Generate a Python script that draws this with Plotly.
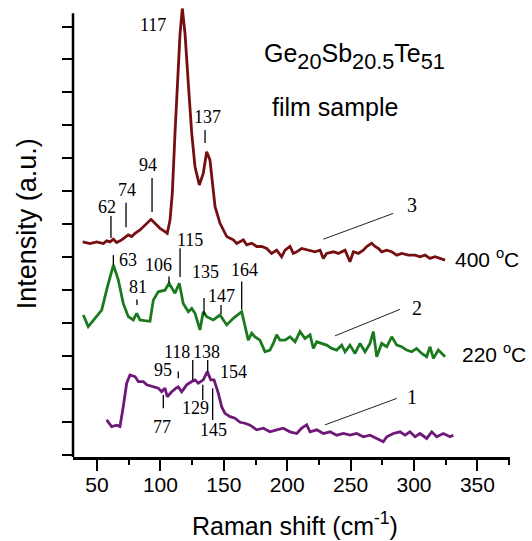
import plotly.graph_objects as go

# ---------------- data ----------------
# curve 3 : 400 C
x3 = [38.7, 44.5, 49.8, 55.0, 57.6, 60.3, 62.9, 65.5, 69.5, 72.1, 74.7, 77.4, 80.0, 83.9, 87.9,
      92.6, 95.7, 99.7, 103.6, 105.4, 107.6, 109.4, 111.5, 113.3, 115.5, 117.3, 119.4, 122.0,
      124.7, 127.3, 130.7, 133.8, 136.5, 139.1, 141.2, 143.1, 147.0, 152.3, 154.9, 157.5, 160.2,
      162.8, 165.4, 168.0, 172.0, 175.9, 179.8, 183.8, 187.7, 191.7, 195.6, 198.3, 202.2, 204.8,
      207.5, 211.4, 216.7, 221.9, 225.9, 228.5, 231.1, 236.4, 240.3, 243.0, 245.6, 249.5, 252.2,
      256.1, 260.0, 262.7, 266.6, 269.3, 271.9, 274.5, 278.5, 282.4, 286.4, 290.3, 295.6, 300.8,
      304.8, 308.7, 312.6, 316.6, 320.5, 324.5]
y3 = [6.50, 6.45, 6.50, 6.45, 6.53, 6.50, 6.58, 6.48, 6.56, 6.64, 6.71, 6.66, 6.76, 6.86, 7.01,
      7.18, 7.06, 6.91, 6.81, 6.76, 7.16, 7.97, 9.78, 11.29, 12.80, 13.55, 12.80, 11.29,
      9.78, 8.77, 8.22, 8.57, 9.22, 8.97, 8.17, 7.56, 7.06, 6.66, 6.61, 6.56, 6.45,
      6.51, 6.56, 6.41, 6.46, 6.36, 6.36, 6.30, 6.15, 6.25, 6.05, 6.25, 6.36, 6.15,
      6.20, 6.30, 6.25, 6.20, 6.25, 6.00, 6.15, 6.20, 6.15, 6.20, 6.25, 5.90, 6.20,
      6.15, 6.25, 6.36, 6.46, 6.36, 6.30, 6.20, 6.25, 6.20, 6.10, 6.15, 6.10, 6.10,
      6.05, 6.10, 6.00, 6.05, 6.00, 5.95]

# curve 2 : 220 C
x2 = [39.2, 43.1, 48.4, 53.7, 57.6, 62.9, 66.8, 70.7, 74.7, 78.6, 81.3, 83.9, 87.5, 91.8, 94.4,
      98.3, 103.6, 106.8, 111.5, 114.9, 118.0, 122.0, 124.7, 127.3, 131.2, 133.8, 136.5, 141.7,
      147.0, 152.3, 157.5, 164.1, 169.3, 172.0, 174.6, 178.5, 182.5, 186.4, 189.0, 191.7, 194.3,
      198.3, 202.2, 206.2, 210.1, 214.0, 218.0, 220.6, 223.3, 227.2, 231.1, 235.1, 239.0, 243.0,
      245.6, 249.5, 253.5, 257.4, 261.4, 265.3, 267.9, 270.6, 274.5, 278.5, 282.4, 286.4, 290.3,
      294.2, 298.2, 302.1, 306.1, 310.0, 312.6, 315.3, 319.2, 324.5]
y2 = [4.29, 3.94, 4.19, 4.44, 5.05, 5.80, 5.35, 4.64, 4.24, 4.14, 4.34, 4.14, 4.12, 4.10, 4.74,
      4.99, 5.04, 5.25, 4.95, 5.25, 4.64, 4.39, 4.49, 4.34, 3.84, 4.39, 4.24, 4.14,
      4.29, 3.99, 4.19, 4.39, 3.53, 3.74, 3.63, 3.53, 3.18, 3.23, 3.43, 3.69, 3.53,
      3.53, 3.63, 3.48, 3.79, 3.58, 3.69, 3.28, 3.48, 3.43, 3.38, 3.28, 3.23, 3.38,
      3.18, 3.38, 3.13, 3.43, 3.18, 3.43, 3.79, 3.03, 3.43, 3.33, 3.63, 3.38, 3.33,
      3.23, 3.18, 3.28, 3.13, 3.03, 3.33, 2.98, 3.23, 3.03]

# curve 1 : as deposited
x1 = [57.6, 61.6, 65.5, 68.1, 70.7, 73.4, 76.0, 80.0, 82.6, 86.5, 89.2, 94.4, 98.3, 101.0,
      103.6, 105.4, 108.9, 112.3, 114.1, 116.8, 120.7, 124.7, 127.3, 129.9, 133.8, 137.0, 139.7,
      142.3, 145.7, 148.3, 150.9, 154.9, 158.8, 162.8, 166.7, 170.7, 176.0, 181.2, 186.4, 191.7,
      196.9, 202.2, 207.5, 211.4, 215.4, 218.0, 223.3, 228.5, 233.8, 239.0, 244.3, 249.5, 254.8,
      260.0, 265.3, 270.6, 275.8, 278.5, 283.7, 289.0, 292.9, 296.8, 300.8, 304.7, 310.0, 314.0,
      317.9, 323.1, 328.4, 331.0]
y1 = [1.12, 0.92, 0.96, 0.92, 1.52, 2.23, 2.48, 2.43, 2.28, 2.28, 2.18, 2.12, 2.08, 1.97,
      2.08, 1.82, 1.97, 2.08, 2.12, 1.97, 2.18, 2.28, 2.33, 2.23, 2.33, 2.58, 2.33,
      2.33, 1.92, 1.52, 1.32, 1.22, 1.17, 1.05, 1.02, 0.96, 0.82, 0.87, 0.76, 0.82,
      0.87, 0.76, 0.71, 0.87, 0.97, 0.76, 0.82, 0.71, 0.76, 0.66, 0.71, 0.66, 0.71,
      0.61, 0.66, 0.56, 0.46, 0.61, 0.71, 0.76, 0.66, 0.76, 0.61, 0.71, 0.56, 0.76,
      0.61, 0.71, 0.61, 0.66]

# peak labels: text, label x, label y, tick x, tick y0, tick y1 (tick x None = no tick)
pk_text = ["117", "137", "94", "74", "62",
           "63", "106", "115", "81", "135", "147", "164",
           "118", "138", "95", "154", "129", "77", "145"]
pk_lx = [94.2, 137.5, 90.2, 73.7, 57.9,
         74.7, 98.5, 123.3, 82.6, 135.2, 148.3, 166.7,
         112.8, 136.5, 102.3, 157.5, 127.3, 101.0, 141.7]
pk_ly = [13.05, 10.27, 8.82, 8.06, 7.56,
         5.95, 5.80, 6.56, 5.15, 5.60, 4.86, 5.65,
         3.18, 3.18, 2.63, 2.58, 1.47, 0.92, 0.82]
pk_tx = [None, 135.2, 93.4, 72.9, 61.0,
         62.9, 106.8, 115.5, 81.5, 134.4, 147.8, 164.1,
         125.5, 137.3, 114.1, None, 133.4, 102.3, 141.2]
pk_ty0 = [None, 9.88, 8.43, 7.68, 7.28,
          6.10, 5.45, 6.31, 4.76, 4.80, 4.59, 5.30,
          2.93, 2.93, 2.58, None, 2.18, 1.87, 2.08]
pk_ty1 = [None, 9.49, 7.40, 6.94, 6.62,
          5.80, 5.25, 5.44, 4.59, 4.29, 4.32, 4.46,
          2.33, 2.58, 2.38, None, 1.72, 1.47, 1.12]

# curve numbers with leader lines
cn_text = ["3", "2", "1"]
cn_x = [292.9, 296.8, 292.9]
cn_y = [7.61, 4.49, 1.82]
cn_lx0 = [228.5, 237.7, 229.8]
cn_ly0 = [6.58, 3.66, 0.97]
cn_lx1 = [283.7, 288.9, 286.4]
cn_ly1 = [7.36, 4.46, 1.77]

temp_text = ["400 <sup>o</sup>C", "220 <sup>o</sup>C"]
temp_x = [330.7, 336.3]
temp_y = [6.01, 3.13]

x_ticks = [50, 100, 150, 200, 250, 300, 350]

# ---------------- figure ----------------
SANS = "Liberation Sans, Arial, sans-serif"
SERIF = "Liberation Serif, Times New Roman, serif"

fig = go.Figure()
for xs, ys, col in [(x3, y3, "#760f12"), (x2, y2, "#1c7a1e"), (x1, y1, "#6e1878")]:
    fig.add_trace(go.Scatter(x=xs, y=ys, mode="lines",
                             line=dict(color=col, width=2.8), hoverinfo="skip"))

shapes = []
# y axis line (shorter than the plot area so the 117 peak can rise above it)
shapes.append(dict(type="line", xref="paper", x0=0, x1=0, yref="y", y0=0, y1=13.41,
                   line=dict(color="black", width=2.5)))
annotations = []
for t, lx, ly, tx, ty0, ty1 in zip(pk_text, pk_lx, pk_ly, pk_tx, pk_ty0, pk_ty1):
    annotations.append(dict(x=lx, y=ly, text=t, showarrow=False, xanchor="center",
                            yanchor="middle", font=dict(family=SERIF, size=18, color="black")))
    if tx is not None:
        shapes.append(dict(type="line", xref="x", yref="y", x0=tx, x1=tx, y0=ty0, y1=ty1,
                           line=dict(color="black", width=1.3)))
for t, x, y, a0, b0, a1, b1 in zip(cn_text, cn_x, cn_y, cn_lx0, cn_ly0, cn_lx1, cn_ly1):
    annotations.append(dict(x=x, y=y, text=t, showarrow=False, xanchor="left",
                            yanchor="middle", font=dict(family=SERIF, size=20, color="black")))
    shapes.append(dict(type="line", xref="x", yref="y", x0=a0, x1=a1, y0=b0, y1=b1,
                       line=dict(color="#222222", width=1)))
for t, x, y in zip(temp_text, temp_x, temp_y):
    annotations.append(dict(x=x, y=y, text=t, showarrow=False, xanchor="left",
                            yanchor="middle", font=dict(family=SANS, size=21, color="black")))

MAIN = '<span style="font-size:25px">{}</span>'
title_txt = (MAIN.format("Ge") + "<sub>20</sub>" + MAIN.format("Sb") + "<sub>20.5</sub>"
             + MAIN.format("Te") + "<sub>51</sub>")
annotations.append(dict(xref="paper", yref="paper", x=0.432, y=0.885, xanchor="left",
                        yanchor="middle", showarrow=False, text=title_txt,
                        font=dict(family=SANS, size=31, color="black")))
annotations.append(dict(xref="paper", yref="paper", x=0.450, y=0.775, xanchor="left",
                        yanchor="middle", showarrow=False, text="film sample",
                        font=dict(family=SANS, size=25, color="black")))
annotations.append(dict(xref="paper", yref="paper", x=-0.105, y=0.515, xanchor="center",
                        yanchor="middle", showarrow=False, text="Intensity (a.u.)",
                        textangle=-90, font=dict(family=SANS, size=27, color="black")))
annotations.append(dict(xref="paper", yref="paper", x=0.508, y=-0.148, xanchor="center",
                        yanchor="middle", showarrow=False, text="Raman shift (cm<sup>-1</sup>)",
                        font=dict(family=SANS, size=25, color="black")))

fig.update_layout(
    width=532, height=541,
    margin=dict(l=73, r=22, t=5, b=84),
    paper_bgcolor="white", plot_bgcolor="white",
    showlegend=False,
    shapes=shapes, annotations=annotations,
    xaxis=dict(range=[31.07, 375.7], tickmode="array", tickvals=x_ticks,
               ticktext=[str(v) for v in x_ticks],
               showline=True, linecolor="black", linewidth=2.5,
               ticks="outside", ticklen=11, tickwidth=2, tickcolor="black",
               ticklabelstandoff=-4,
               minor=dict(dtick=25, tick0=0, ticks="outside", ticklen=5, tickwidth=2,
                          tickcolor="black"),
               showgrid=False, zeroline=False,
               tickfont=dict(family=SANS, size=21, color="black")),
    yaxis=dict(range=[0, 13.656], showline=False, showticklabels=False,
               tickmode="linear", tick0=1.066, dtick=0.995,
               ticks="outside", ticklen=10, tickwidth=2, tickcolor="black",
               showgrid=False, zeroline=False),
)

fig.write_html("out.html")
